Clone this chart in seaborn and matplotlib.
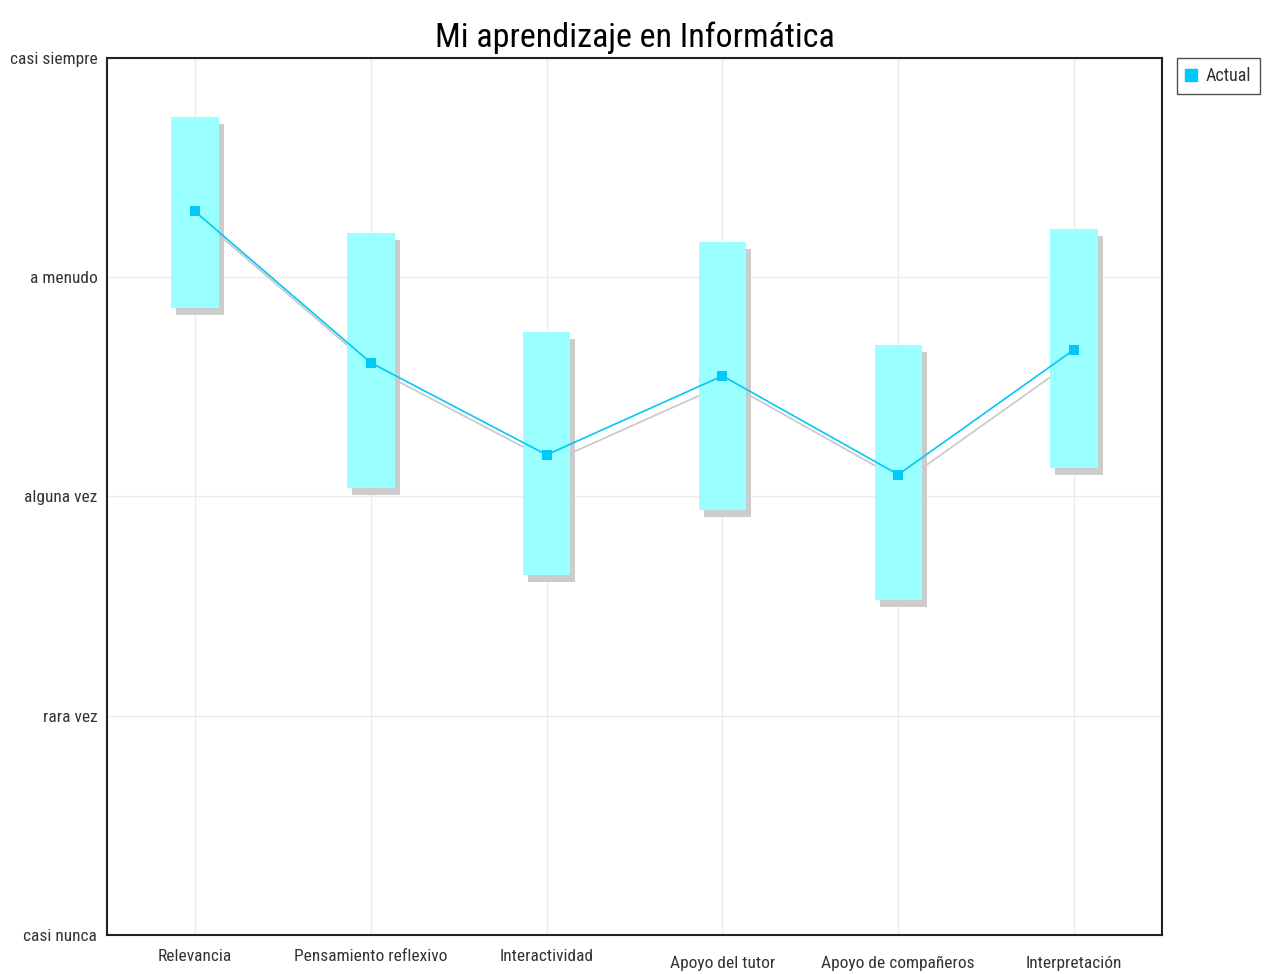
import matplotlib
matplotlib.use("Agg")
import matplotlib.pyplot as plt
import matplotlib.transforms as mtransforms
from matplotlib.lines import Line2D
import seaborn as sns
import pandas as pd

categories = ["Relevancia", "Pensamiento reflexivo", "Interactividad",
              "Apoyo del tutor", "Apoyo de compañeros", "Interpretación"]
actual = [4.30, 3.61, 3.19, 3.55, 3.10, 3.67]
range_high = [4.73, 4.20, 3.75, 4.16, 3.69, 4.22]
range_low = [3.86, 3.04, 2.64, 2.94, 2.53, 3.13]
level_values = [1, 2, 3, 4, 5]
level_labels = ["casi nunca", "rara vez", "alguna vez", "a menudo", "casi siempre"]

sns.set_theme(style="white")
plt.rcParams["font.family"] = ["Roboto Condensed", "DejaVu Sans"]

df = pd.DataFrame({"cat": categories, "x": range(len(categories)), "actual": actual,
                   "high": range_high, "low": range_low})

fig = plt.figure(figsize=(12.65, 9.74), dpi=100)
ax = fig.add_axes([0.0846, 0.040, 0.8340, 0.9005])

shadow = mtransforms.offset_copy(ax.transData, fig=fig, x=5, y=-7, units="dots")
bar_w = 0.27

# drop shadows
ax.bar(df["x"], df["high"] - df["low"], bottom=df["low"], width=bar_w,
       color="#cccccc", linewidth=0, transform=shadow, zorder=1)
ax.plot(df["x"], df["actual"], color="#c8c8c8", lw=1.2, transform=shadow, zorder=1.5)

# range boxes
ax.bar(df["x"], df["high"] - df["low"], bottom=df["low"], width=bar_w,
       color="#99ffff", linewidth=0, zorder=2)

# actual values
sns.lineplot(data=df, x="x", y="actual", ax=ax, color="#00c8f8", lw=1.2,
             marker="s", markersize=7, markeredgewidth=0, zorder=3, legend=False)

ax.set_xlim(-0.5, len(categories) - 0.5)
ax.set_ylim(1, 5)
ax.set_xticks(range(len(categories)))
ax.set_xticklabels(categories, fontsize=12.5, color="#333333")
ax.set_yticks(level_values)
ax.set_yticklabels(level_labels, fontsize=12.5, color="#333333")
ax.set_xlabel("")
ax.set_ylabel("")
ax.grid(True, color="#ececec", lw=1)
ax.set_axisbelow(True)
ax.tick_params(axis="both", direction="in", length=6, width=1, color="#222222")
ax.tick_params(axis="y", pad=7)
for i, t in enumerate(ax.xaxis.get_major_ticks()):
    t.set_pad(10 if i < 3 else 15)
for s in ax.spines.values():
    s.set_color("#222222")
    s.set_linewidth(1.5)

ax.set_title("Mi aprendizaje en Informática", fontsize=24.5, pad=8, color="#000000")

handle = Line2D([], [], marker="s", color="#00c8f8", lw=0, markersize=9)
fig.legend([handle], ["Actual"], loc="upper left", bbox_to_anchor=(0.9305, 0.9405),
           fontsize=13, frameon=True, fancybox=False, edgecolor="#222222",
           handlelength=0.5, handletextpad=0.6, borderpad=0.5, borderaxespad=0,
           labelcolor="#333333")

fig.savefig("out.png", dpi=100)
